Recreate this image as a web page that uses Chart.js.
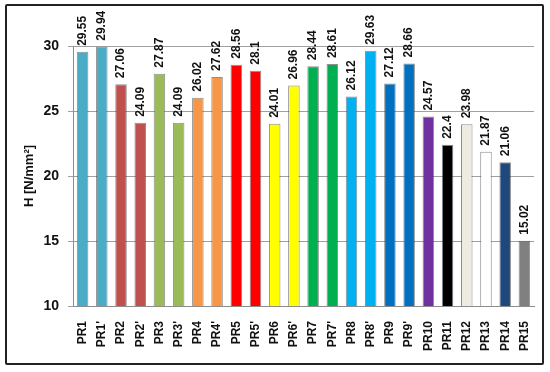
<!DOCTYPE html>
<html>
<head>
<meta charset="utf-8">
<script src="https://cdn.jsdelivr.net/npm/chart.js@4.4.0/dist/chart.umd.min.js"></script>
<style>
  body { margin: 0; background: #fff; }
  #wrap { position: relative; width: 550px; height: 372px; }
  #frame { position: absolute; left: 5px; top: 4px; width: 535px; height: 357px;
           border: 2px solid #222; border-radius: 2px; pointer-events: none; }
</style>
</head>
<body>
<div id="wrap">
  <canvas id="myChart" width="550" height="372"></canvas>
  <div id="frame"></div>
</div>
<script>
// samples and hardness values
var labels = ["PR1", "PR1'", "PR2", "PR2'", "PR3", "PR3'", "PR4", "PR4'", "PR5", "PR5'",
              "PR6", "PR6'", "PR7", "PR7'", "PR8", "PR8'", "PR9", "PR9'", "PR10", "PR11",
              "PR12", "PR13", "PR14", "PR15"];
var hardness = [29.55, 29.94, 27.06, 24.09, 27.87, 24.09, 26.02, 27.62, 28.56, 28.1,
                24.01, 26.96, 28.44, 28.61, 26.12, 29.63, 27.12, 28.66, 24.57, 22.4,
                23.98, 21.87, 21.06, 15.02];
var barColors = ["#4BACC6", "#4BACC6", "#C0504D", "#C0504D", "#9BBB59", "#9BBB59",
                 "#F79646", "#F79646", "#FF0000", "#FF0000", "#FFFF00", "#FFFF00",
                 "#00B050", "#00B050", "#00B0F0", "#00B0F0", "#0070C0", "#0070C0",
                 "#7030A0", "#000000", "#EEECE1", "#FFFFFF", "#1F497D", "#808080"];
var yTicks = [10, 15, 20, 25, 30];

// value labels written upward above each bar
var valueLabels = {
    id: 'valueLabels',
    afterDatasetsDraw: function(chart) {
        var ctx = chart.ctx;
        var meta = chart.getDatasetMeta(0);
        ctx.save();
        ctx.font = 'bold 12px "Liberation Sans", Arial, sans-serif';
        ctx.fillStyle = '#111';
        ctx.textAlign = 'left';
        ctx.textBaseline = 'middle';
        meta.data.forEach(function(bar, i) {
            ctx.save();
            ctx.translate(bar.x, bar.y - 6);
            ctx.rotate(-Math.PI / 2);
            ctx.fillText(String(hardness[i]), 0, 0);
            ctx.restore();
        });
        ctx.restore();
    }
};

var ctx = document.getElementById('myChart').getContext('2d');
var myChart = new Chart(ctx, {
    type: 'bar',
    data: {
        labels: labels,
        datasets: [{
            data: hardness,
            backgroundColor: barColors,
            borderColor: 'rgba(50,50,50,0.55)',
            borderWidth: 1,
            categoryPercentage: 1,
            barPercentage: 0.6
        }]
    },
    options: {
        responsive: false,
        animation: false,
        events: [],
        layout: { padding: { top: 46, right: 16, left: 0, bottom: 0 } },
        plugins: { legend: { display: false }, tooltip: { enabled: false } },
        scales: {
            x: {
                grid: { display: false },
                border: { display: true, color: '#8c8c8c', width: 1 },
                ticks: {
                    minRotation: 90, maxRotation: 90, autoSkip: false, padding: 7,
                    color: '#111',
                    font: { family: '"Liberation Sans", Arial, sans-serif', size: 12, weight: 'bold' }
                },
                afterFit: function(s) { s.height = 66; }
            },
            y: {
                min: 10, max: 30,
                afterBuildTicks: function(s) { s.ticks = yTicks.map(function(v) { return { value: v }; }); },
                grid: { color: '#a0a0a0', lineWidth: 1, tickLength: 5, drawTicks: true },
                border: { display: true, color: '#8c8c8c', width: 1 },
                ticks: {
                    padding: 9, color: '#111',
                    font: { family: '"Liberation Sans", Arial, sans-serif', size: 14, weight: 'bold' }
                },
                title: {
                    display: true, text: 'H [N/mm²]', color: '#111',
                    padding: { top: 22, bottom: 0 },
                    font: { family: '"Liberation Sans", Arial, sans-serif', size: 13, weight: 'bold' }
                },
                afterFit: function(s) { s.width = 73; }
            }
        }
    },
    plugins: [valueLabels]
});
</script>
</body>
</html>
